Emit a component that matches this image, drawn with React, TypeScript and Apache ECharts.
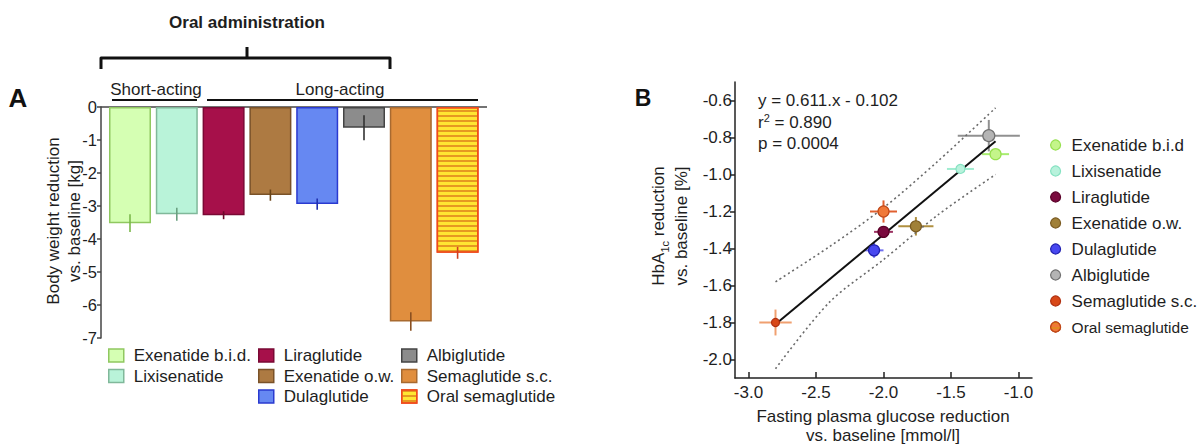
import React, { useEffect, useRef } from 'react';
import * as echarts from 'echarts';

const FONT = '"Liberation Sans", Arial, Helvetica, sans-serif';
const INK = '#1e1e1e';

// ---------- Panel A data ----------
const drugsA = ['Exenatide b.i.d.', 'Lixisenatide', 'Liraglutide', 'Exenatide o.w.', 'Dulaglutide', 'Albiglutide', 'Semaglutide s.c.', 'Oral semaglutide'];
const weightChange = [-3.52, -3.25, -3.28, -2.67, -2.94, -0.63, -6.5, -4.42];
const weightErr = [0.27, 0.2, 0.12, 0.17, 0.17, 0.38, 0.28, 0.18];
const legendColsA = [
  ['Exenatide b.i.d.', 'Lixisenatide'],
  ['Liraglutide', 'Exenatide o.w.', 'Dulaglutide'],
  ['Albiglutide', 'Semaglutide s.c.', 'Oral semaglutide'],
];

// ---------- Panel B data ----------
const drugsB = ['Exenatide b.i.d', 'Lixisenatide', 'Liraglutide', 'Exenatide o.w.', 'Dulaglutide', 'Albiglutide', 'Semaglutide s.c.', 'Oral semaglutide'];
const fpgChange = [-1.17, -1.43, -2.0, -1.76, -2.07, -1.22, -2.8, -2.0];
const fpgErr = [0.1, 0.1, 0.07, 0.13, 0.07, 0.23, 0.12, 0.1];
const hba1cChange = [-0.89, -0.97, -1.31, -1.28, -1.41, -0.79, -1.8, -1.2];
const hba1cErr = [0.02, 0.015, 0.03, 0.05, 0.04, 0.085, 0.07, 0.06];
const regressionX = [-2.8, -1.17];
const regressionY = [-1.81, -0.82];
const ciX = [-2.8, -2.4, -2.0, -1.6, -1.17];
const ciUpper = [-1.58, -1.39, -1.18, -0.93, -0.64];
const ciLower = [-2.05, -1.69, -1.46, -1.22, -1.0];
const xTicksB = [-3.0, -2.5, -2.0, -1.5, -1.0];
const yTicksB = [-2.0, -1.8, -1.6, -1.4, -1.2, -1.0, -0.8, -0.6];

// ---------- styles ----------
const barFill = ['#d5ffb3', '#b9f3d9', '#a6104a', '#ad7a42', '#6688f2', '#8c8c8c', '#e08e3e', '#ffe632'];
const barEdge = ['#90c860', '#80b89a', '#7a0834', '#7a5228', '#2a3ad0', '#444444', '#a86a30', '#f04a1c'];
const barErrColor = ['#7ab84a', '#6aa080', '#6a0828', '#6a4418', '#2030b0', '#333333', '#8a5020', '#d04020'];
const stripeDecal = {
  symbol: 'rect',
  symbolSize: 1,
  color: 'rgba(225,140,30,0.85)',
  dashArrayX: [1, 0],
  dashArrayY: [1.2, 2.4],
  rotation: 0,
};

const dotFill = ['#c4f58a', '#b8f2dc', '#7a0a3e', '#a08038', '#4848f0', '#b4b4b4', '#d84818', '#f07838'];
const dotEdge = ['#96e04e', '#86e2c2', '#5a0028', '#7a5a20', '#2020b0', '#707070', '#b03010', '#c04818'];
const dotErrColor = ['#a8ec70', '#a0ecd0', '#9a3060', '#b09040', '#7070f0', '#909090', '#f0a070', '#e06030'];
const dotSize = [11, 9, 11, 11, 11, 12, 8, 11];

function buildOption() {
  const barSeries = drugsA.map((name, i) => ({
    type: 'bar',
    name,
    xAxisIndex: 0,
    yAxisIndex: 0,
    barWidth: 42,
    barGap: '-100%',
    data: drugsA.map((_, j) => (j === i ? weightChange[i] : '-')),
    itemStyle: {
      color: barFill[i],
      borderColor: barEdge[i],
      borderWidth: 1.5,
      ...(i === 7 ? { decal: stripeDecal } : {}),
    },
    z: 2,
  }));

  const barErrSeries = {
    type: 'custom',
    xAxisIndex: 0,
    yAxisIndex: 0,
    z: 5,
    clip: false,
    data: weightChange.map((v, i) => [i, v, weightErr[i]]),
    encode: { x: 0, y: 1 },
    renderItem: (params: any, api: any) => {
      const i = api.value(0);
      const v = api.value(1);
      const e = api.value(2);
      const p1 = api.coord([i, v + e]);
      const p2 = api.coord([i, v - e]);
      return {
        type: 'line',
        shape: { x1: p1[0], y1: p1[1], x2: p2[0], y2: p2[1] },
        style: { stroke: barErrColor[params.dataIndex], lineWidth: 1.6 },
      };
    },
  };

  const dotSeries = drugsB.map((name, i) => ({
    type: 'scatter',
    name,
    xAxisIndex: 1,
    yAxisIndex: 1,
    data: [[fpgChange[i], hba1cChange[i]]],
    symbol: 'circle',
    symbolSize: dotSize[i],
    itemStyle: { color: dotFill[i], borderColor: dotEdge[i], borderWidth: 1.2, opacity: 1 },
    z: 6,
  }));

  const dotErrSeries = {
    type: 'custom',
    xAxisIndex: 1,
    yAxisIndex: 1,
    z: 3,
    data: fpgChange.map((x, i) => [x, hba1cChange[i], fpgErr[i], hba1cErr[i]]),
    encode: { x: 0, y: 1 },
    renderItem: (params: any, api: any) => {
      const x = api.value(0);
      const y = api.value(1);
      const ex = api.value(2);
      const ey = api.value(3);
      const l = api.coord([x - ex, y]);
      const r = api.coord([x + ex, y]);
      const t = api.coord([x, y + ey]);
      const b = api.coord([x, y - ey]);
      const stroke = dotErrColor[params.dataIndex];
      return {
        type: 'group',
        children: [
          { type: 'line', shape: { x1: l[0], y1: l[1], x2: r[0], y2: r[1] }, style: { stroke, lineWidth: 2 } },
          { type: 'line', shape: { x1: t[0], y1: t[1], x2: b[0], y2: b[1] }, style: { stroke, lineWidth: 2 } },
        ],
      };
    },
  };

  const regSeries = {
    type: 'line',
    xAxisIndex: 1,
    yAxisIndex: 1,
    data: regressionX.map((x, i) => [x, regressionY[i]]),
    symbol: 'none',
    lineStyle: { color: '#111', width: 2 },
    z: 4,
    silent: true,
  };
  const ciSeries = [ciUpper, ciLower].map((arr) => ({
    type: 'line',
    xAxisIndex: 1,
    yAxisIndex: 1,
    data: ciX.map((x, i) => [x, arr[i]]),
    symbol: 'none',
    smooth: 0.3,
    lineStyle: { color: '#6a6a6a', width: 1.6, type: [2, 3] },
    z: 3,
    silent: true,
  }));

  const legendsA = legendColsA.map((names, c) => ({
    orient: 'vertical',
    left: [103, 253, 396][c],
    top: 342,
    itemWidth: 15,
    itemHeight: 13,
    itemGap: 3.5,
    selectedMode: false,
    icon: 'rect',
    textStyle: { fontFamily: FONT, fontSize: 17, color: INK, lineHeight: 17, padding: [0, 0, 0, 5] },
    data: names.map((n) => {
      const i = drugsA.indexOf(n);
      return {
        name: n,
        itemStyle: {
          color: barFill[i],
          borderColor: barEdge[i],
          borderWidth: 1.5,
          ...(i === 7 ? { decal: stripeDecal } : {}),
        },
      };
    }),
  }));

  const legendB = {
    orient: 'vertical',
    left: 1045,
    top: 131.5,
    itemWidth: 10,
    itemHeight: 10,
    itemGap: 9,
    selectedMode: false,
    icon: 'circle',
    textStyle: { fontFamily: FONT, fontSize: 17, color: INK, lineHeight: 17, padding: [0, 0, 0, 6] },
    data: drugsB.map((n, i) => ({
      name: n,
      itemStyle: { color: dotFill[i], borderColor: dotEdge[i], borderWidth: 1.2 },
      ...(i === 7 ? { textStyle: { fontSize: 15.5 } } : {}),
    })),
  };

  const txt = (x: number, y: number, text: string, extra: any = {}) => ({
    type: 'text',
    x,
    y,
    silent: true,
    style: {
      text,
      fontFamily: FONT,
      fontSize: 17,
      fill: INK,
      align: 'center',
      verticalAlign: 'middle',
      ...extra,
    },
  });
  const ln = (x1: number, y1: number, x2: number, y2: number, w: number, stroke = '#111') => ({
    type: 'line',
    silent: true,
    shape: { x1, y1, x2, y2 },
    style: { stroke, lineWidth: w },
  });

  const graphic = [
    txt(18, 98, 'A', { fontSize: 26, fontWeight: 'bold', fill: '#111' }),
    txt(643, 98, 'B', { fontSize: 23, fontWeight: 'bold', fill: '#111' }),
    txt(247, 22, 'Oral administration', { fontWeight: 'bold' }),
    {
      type: 'polyline',
      silent: true,
      shape: { points: [[101, 69], [101, 58], [390, 58], [390, 69]] },
      style: { stroke: '#111', lineWidth: 3, fill: null, lineJoin: 'round' },
    },
    ln(247, 47, 247, 58, 3),
    txt(156, 89, 'Short-acting'),
    ln(112, 100, 197, 100, 2),
    txt(340, 89, 'Long-acting'),
    ln(207, 100, 478, 100, 2),
    ln(101, 107, 487, 107, 1.5, '#444'),
    {
      type: 'text',
      x: 64,
      y: 221,
      rotation: Math.PI / 2,
      silent: true,
      style: {
        text: 'Body weight reduction\nvs. baseline [kg]',
        fontFamily: FONT,
        fontSize: 17,
        lineHeight: 20.5,
        fill: INK,
        align: 'center',
        verticalAlign: 'middle',
      },
    },
    {
      type: 'text',
      x: 670,
      y: 226,
      rotation: Math.PI / 2,
      silent: true,
      style: {
        text: '{n|HbA}{s|1c}{n| reduction}\n{n|vs. baseline [%]}',
        fontFamily: FONT,
        fontSize: 17,
        fill: INK,
        align: 'center',
        verticalAlign: 'middle',
        rich: {
          n: { fontFamily: FONT, fontSize: 17, lineHeight: 23, fill: INK },
          s: { fontFamily: FONT, fontSize: 11, lineHeight: 11, verticalAlign: 'bottom', fill: INK },
        },
      },
    },
    {
      type: 'text',
      x: 883,
      y: 426,
      silent: true,
      style: {
        text: 'Fasting plasma glucose reduction\nvs. baseline [mmol/l]',
        fontFamily: FONT,
        fontSize: 17,
        lineHeight: 19,
        fill: INK,
        align: 'center',
        verticalAlign: 'middle',
      },
    },
    txt(758, 100, 'y = 0.611.x - 0.102', { align: 'left' }),
    {
      type: 'text',
      x: 758,
      y: 122,
      silent: true,
      style: {
        text: '{n|r}{p|2}{n| = 0.890}',
        fontFamily: FONT,
        fontSize: 17,
        fill: INK,
        align: 'left',
        verticalAlign: 'middle',
        rich: {
          n: { fontFamily: FONT, fontSize: 17, lineHeight: 20, fill: INK },
          p: { fontFamily: FONT, fontSize: 11, lineHeight: 11, verticalAlign: 'top', fill: INK },
        },
      },
    },
    txt(758, 143, 'p = 0.0004', { align: 'left' }),
  ];

  return {
    animation: false,
    backgroundColor: '#ffffff',
    textStyle: { fontFamily: FONT },
    grid: [
      { left: 106.6, top: 107, width: 374.4, height: 231 },
      { left: 735, top: 82, width: 297, height: 296 },
    ],
    xAxis: [
      {
        gridIndex: 0,
        type: 'category',
        data: drugsA,
        position: 'top',
        axisLine: { show: false, onZero: false },
        axisTick: { show: true, inside: true, alignWithLabel: true, length: 5, lineStyle: { color: '#333', width: 1.5 } },
        axisLabel: { show: false },
        splitLine: { show: false },
      },
      {
        gridIndex: 1,
        type: 'value',
        min: -3.1,
        max: -0.9,
        axisLine: { show: true, onZero: false, lineStyle: { color: '#222', width: 1.5 } },
        axisTick: { show: true, inside: true, length: 6, customValues: xTicksB, lineStyle: { color: '#222', width: 1.5 } },
        axisLabel: {
          customValues: xTicksB,
          formatter: (v: number) => v.toFixed(1),
          fontFamily: FONT,
          fontSize: 17,
          color: INK,
          margin: 6,
        },
        splitLine: { show: false },
      },
    ],
    yAxis: [
      {
        gridIndex: 0,
        type: 'value',
        min: -7,
        max: 0,
        interval: 1,
        offset: 5.6,
        axisLine: { show: true, onZero: false, lineStyle: { color: '#444', width: 1.5 } },
        axisTick: { show: true, length: 4, lineStyle: { color: '#444', width: 1.5 } },
        axisLabel: { fontFamily: FONT, fontSize: 16.5, color: INK, margin: 4 },
        splitLine: { show: false },
      },
      {
        gridIndex: 1,
        type: 'value',
        min: -2.1,
        max: -0.5,
        axisLine: { show: true, onZero: false, lineStyle: { color: '#222', width: 1.5 } },
        axisTick: { show: true, length: 5, customValues: yTicksB, lineStyle: { color: '#222', width: 1.5 } },
        axisLabel: {
          customValues: yTicksB,
          formatter: (v: number) => v.toFixed(1),
          fontFamily: FONT,
          fontSize: 17,
          color: INK,
          margin: 3,
        },
        splitLine: { show: false },
      },
    ],
    legend: [...legendsA, legendB],
    series: [...barSeries, barErrSeries, ...ciSeries, regSeries, dotErrSeries, ...dotSeries],
    graphic,
  };
}

export default function App() {
  const ref = useRef<HTMLDivElement>(null);
  useEffect(() => {
    if (!ref.current) return;
    const chart = echarts.init(ref.current, null, { renderer: 'svg' });
    chart.setOption(buildOption() as any);
    return () => chart.dispose();
  }, []);
  return (
    <div
      ref={ref}
      style={{ position: 'fixed', left: 0, top: 0, width: 1200, height: 447, background: '#fff' }}
    />
  );
}
